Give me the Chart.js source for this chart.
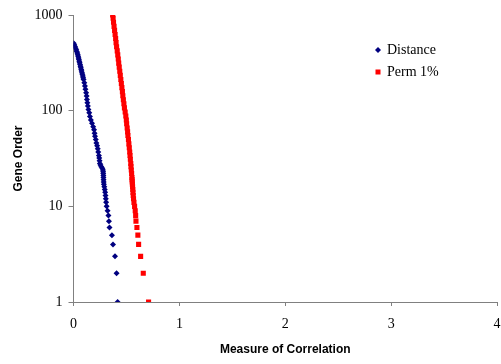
<!DOCTYPE html>
<html>
<head>
<meta charset="utf-8">
<script src="https://cdn.jsdelivr.net/npm/chart.js@4.4.0/dist/chart.umd.min.js"></script>
<style>
  html, body { margin: 0; padding: 0; background: #fff; }
  #wrap { width: 501px; height: 364px; }
</style>
</head>
<body>
<div id="wrap"><canvas id="chart" width="501" height="364"></canvas></div>
<script>
// === GENE ORDER vs MEASURE OF CORRELATION ===

const yTicks = [1, 10, 100, 1000];
const xTicks = [0, 1, 2, 3, 4];

// Distance series (rank, correlation)
const distanceRank = [
  1, 2, 3, 4, 5, 6, 7, 8, 9, 10, 11, 12, 13, 14, 15, 16, 17, 18, 19, 20,
  21, 22, 23, 24, 25, 26, 27, 28, 30, 32, 34, 37, 40, 43, 46, 50, 54, 58,
  63, 68, 74, 80, 87, 95, 103, 112, 121, 131, 142, 154, 167, 181, 196, 212,
  221, 230, 240, 249, 260, 270, 281, 292, 304, 316, 329, 342, 356, 370, 385,
  400, 416, 433, 450, 468, 490, 506
];
const distanceCorr = [
  0.417, 0.407, 0.392, 0.373, 0.363, 0.340, 0.335, 0.330, 0.322, 0.313,
  0.308, 0.305, 0.302, 0.299, 0.295, 0.291, 0.287, 0.285, 0.284, 0.283,
  0.282, 0.281, 0.280, 0.278, 0.272, 0.262, 0.255, 0.249, 0.246, 0.243,
  0.240, 0.234, 0.229, 0.223, 0.216, 0.210, 0.203, 0.199, 0.194, 0.186,
  0.175, 0.164, 0.155, 0.149, 0.141, 0.136, 0.131, 0.127, 0.124, 0.119,
  0.113, 0.108, 0.102, 0.095, 0.091, 0.088, 0.084, 0.080, 0.076, 0.073,
  0.069, 0.066, 0.062, 0.058, 0.055, 0.051, 0.048, 0.044, 0.040, 0.036,
  0.031, 0.026, 0.020, 0.014, 0.007, 0.002
];

// Perm 1% series (rank, correlation)
const permRank = [
  1, 2, 3, 4, 5, 6, 7, 8, 9, 10, 11, 12, 13, 14, 15, 16, 17, 18, 19, 20,
  22, 24, 26, 28, 31, 34, 37, 41, 45, 50, 55, 60, 66, 73, 80, 88, 97, 107,
  118, 130, 143, 158, 174, 192, 212, 234, 258, 285, 314, 347, 383, 422, 466,
  514, 567, 625, 690, 761, 840, 926, 1000
];
const permCorr = [
  0.709, 0.659, 0.634, 0.615, 0.608, 0.599, 0.590, 0.587, 0.583, 0.577,
  0.571, 0.567, 0.564, 0.562, 0.560, 0.558, 0.556, 0.555, 0.553, 0.552,
  0.549, 0.546, 0.543, 0.541, 0.537, 0.534, 0.531, 0.527, 0.523, 0.519,
  0.514, 0.511, 0.507, 0.502, 0.499, 0.494, 0.488, 0.481, 0.476, 0.471,
  0.466, 0.462, 0.457, 0.452, 0.447, 0.442, 0.437, 0.432, 0.427, 0.423,
  0.418, 0.413, 0.407, 0.402, 0.398, 0.393, 0.388, 0.383, 0.378, 0.374,
  0.370
];

const toPoints = (xs, ys) => xs.map((x, i) => ({ x, y: ys[i] }));

const serif = "'Liberation Serif', 'Times New Roman', serif";
const sans  = "'Liberation Sans', Arial, sans-serif";
const axisGray = "#808080";

// legend drawn inside the plot, like the original
const innerLegend = {
  id: "innerLegend",
  afterDraw(chart) {
    const ctx = chart.ctx;
    const items = chart.data.datasets;
    ctx.save();
    ctx.font = "14px " + serif;
    ctx.textBaseline = "middle";
    items.forEach((ds, i) => {
      const y = 50 + i * 22;
      const x = 378;
      ctx.fillStyle = ds.backgroundColor;
      if (ds.pointStyle === "rect") {
        ctx.fillRect(x - 2.5, y - 2.5, 5, 5);
      } else {
        ctx.beginPath();
        ctx.moveTo(x, y - 3);
        ctx.lineTo(x + 3, y);
        ctx.lineTo(x, y + 3);
        ctx.lineTo(x - 3, y);
        ctx.closePath();
        ctx.fill();
      }
      ctx.fillStyle = "#000";
      ctx.fillText(ds.label, 387, y);
    });
    ctx.restore();
  },
};

new Chart(document.getElementById("chart"), {
  type: "scatter",
  data: {
    datasets: [
      {
        label: "Distance",
        data: toPoints(distanceCorr, distanceRank),
        backgroundColor: "#000080",
        borderColor: "#000080",
        pointStyle: "rectRot",
        pointRadius: 3,
        borderWidth: 0,
      },
      {
        label: "Perm 1%",
        data: toPoints(permCorr, permRank),
        backgroundColor: "#ff0000",
        borderColor: "#ff0000",
        pointStyle: "rect",
        pointRadius: 3.6,
        borderWidth: 0,
      },
    ],
  },
  options: {
    responsive: false,
    animation: false,
    layout: { padding: { top: 15, right: 0, left: 0, bottom: 0 } },
    plugins: {
      legend: { display: false },
      tooltip: { enabled: false },
    },
    scales: {
      x: {
        type: "linear",
        min: 0,
        max: 4,
        afterBuildTicks: (axis) => { axis.ticks = xTicks.map((v) => ({ value: v })); },
        afterFit: (axis) => { axis.height = 62; axis.paddingRight = 4; axis.paddingLeft = 0; },
        ticks: {
          color: "#000",
          font: { size: 14, family: serif },
          padding: 10,
          maxRotation: 0,
        },
        grid: {
          display: true,
          drawOnChartArea: false,
          drawTicks: true,
          tickLength: 4,
          color: axisGray,
        },
        border: { display: true, color: axisGray, width: 1 },
        title: {
          display: true,
          text: "Measure of Correlation",
          color: "#000",
          font: { size: 12, weight: "bold", family: sans },
          padding: { top: 0, bottom: 7 },
        },
      },
      y: {
        type: "logarithmic",
        min: 1,
        max: 1000,
        afterBuildTicks: (axis) => { axis.ticks = yTicks.map((v) => ({ value: v })); },
        afterFit: (axis) => { axis.width = 73.5; },
        ticks: {
          color: "#000",
          font: { size: 14, family: serif },
          padding: 6,
          callback: (v) => String(v),
        },
        grid: {
          display: true,
          drawOnChartArea: false,
          drawTicks: true,
          tickLength: 5,
          color: axisGray,
        },
        border: { display: true, color: axisGray, width: 1 },
        title: {
          display: true,
          text: "Gene Order",
          color: "#000",
          font: { size: 12, weight: "bold", family: sans },
          padding: { top: 11, bottom: 0 },
        },
      },
    },
  },
  plugins: [innerLegend],
});
</script>
</body>
</html>
